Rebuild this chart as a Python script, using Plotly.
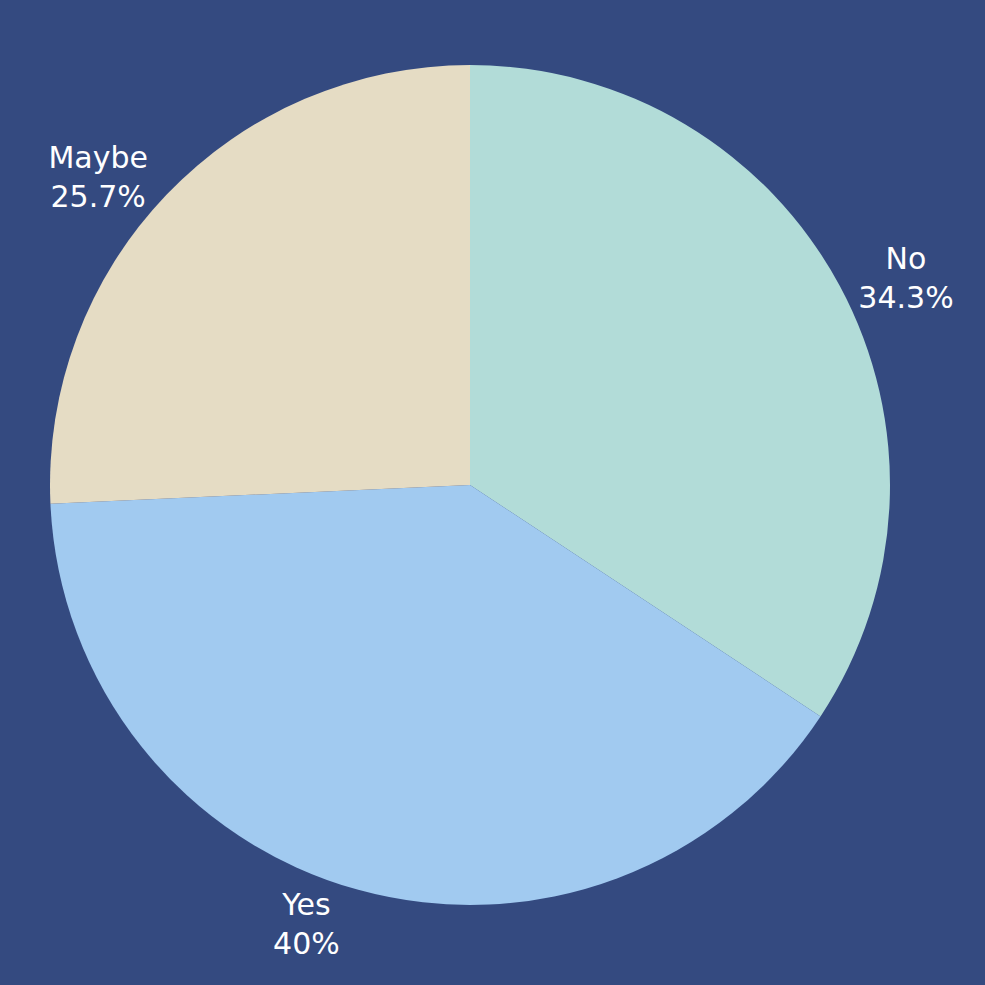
import plotly.graph_objects as go

labels = ["No", "Yes", "Maybe"]
values = [12, 14, 9]
colors = ["#b2dcd8", "#a1caf0", "#e5dcc4"]

fig = go.Figure(
    go.Pie(
        labels=labels,
        values=values,
        sort=False,
        direction="clockwise",
        rotation=0,
        marker=dict(colors=colors, line=dict(width=0)),
        textinfo="label+percent",
        textposition="outside",
        outsidetextfont=dict(color="white", size=30, family="DejaVu Sans"),
        showlegend=False,
    )
)

fig.update_layout(
    width=985,
    height=985,
    paper_bgcolor="#344a80",
    plot_bgcolor="#344a80",
    margin=dict(l=50, r=95, t=65, b=80),
)

# remove the default page margin so the figure fills the window
fig.write_html(
    "out.html",
    config={"displayModeBar": False},
    post_script="document.body.style.margin='0';",
)
